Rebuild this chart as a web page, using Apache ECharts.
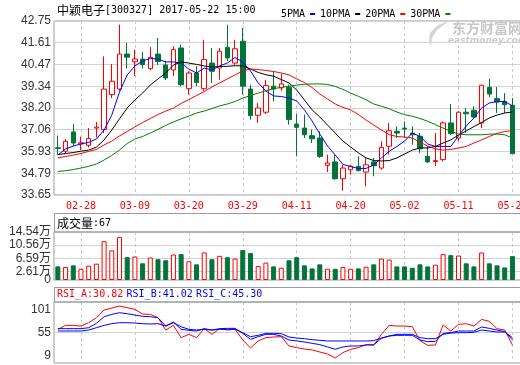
<!DOCTYPE html>
<html><head><meta charset="utf-8">
<script src="https://cdn.jsdelivr.net/npm/echarts@6/dist/echarts.min.js"></script>
<style>html,body{margin:0;padding:0;background:#fff}#c{width:520px;height:365px}#err{position:absolute;left:60px;top:100px;font:10px monospace;color:#f0f}</style>
</head><body><div id="c"></div><div id="err"></div><script>
const dates = ['02-23','02-24','02-27','02-28','03-01','03-02','03-03','03-06','03-07','03-08','03-09','03-10','03-13','03-14','03-15','03-16','03-17','03-20','03-21','03-22','03-23','03-24','03-27','03-28','03-29','03-30','03-31','04-05','04-06','04-07','04-10','04-11','04-12','04-13','04-14','04-17','04-18','04-19','04-20','04-21','04-24','04-25','04-26','04-27','04-28','05-02','05-03','05-04','05-05','05-08','05-09','05-10','05-11','05-12','05-15','05-16','05-17','05-18','05-19','05-22'];
const openP  = [36.12,35.94,36.95,36.32,36.25,37.15,37.07,38.90,39.19,41.02,40.62,40.76,40.26,41.02,40.45,40.19,41.34,39.21,40.03,39.21,40.55,40.29,41.37,40.55,41.69,39.19,37.82,37.98,39.34,39.25,39.28,37.36,37.15,36.75,36.63,35.20,35.38,34.50,34.97,35.15,34.85,35.38,35.06,36.20,36.98,37.15,36.89,36.72,35.67,35.40,35.50,37.42,36.63,37.98,38.08,37.42,39.28,38.69,38.55,38.34];
const closeP = [36.08,36.46,36.37,36.38,36.60,37.20,39.19,39.60,41.02,40.86,40.76,40.47,40.85,40.63,39.77,41.25,39.42,40.03,39.54,40.73,40.12,41.17,40.82,41.30,39.34,37.80,38.20,39.37,39.19,39.46,37.59,37.19,36.80,36.59,35.67,35.32,34.50,35.06,35.15,34.92,35.23,35.18,36.14,37.01,36.89,37.10,36.80,36.07,35.38,35.45,37.42,36.86,37.98,37.90,37.73,39.39,38.93,38.51,38.37,35.81];
const lowP   = [35.74,35.85,36.20,36.00,36.13,36.66,36.89,38.72,39.10,40.26,39.86,40.26,40.17,40.45,39.66,39.87,39.34,38.90,39.34,39.10,39.51,39.68,40.64,40.46,38.90,37.59,37.42,37.89,38.55,39.10,37.33,35.67,36.63,36.37,35.59,34.85,34.45,33.87,34.71,34.89,34.10,34.63,34.97,35.76,36.63,36.63,36.28,35.85,35.32,35.15,35.41,36.80,36.46,36.89,37.68,37.15,38.76,37.94,37.94,35.81];
const highP  = [36.76,36.58,37.36,36.70,37.15,37.47,40.90,40.50,42.56,41.60,41.25,41.13,41.39,41.86,40.66,41.43,41.51,40.12,40.38,41.77,41.34,41.34,42.56,41.77,42.38,39.42,38.46,39.68,40.12,39.98,39.42,37.89,37.85,37.07,36.98,35.76,35.76,35.23,35.23,35.67,35.59,35.59,36.46,37.42,37.24,37.50,37.24,36.89,36.20,36.89,37.50,38.41,38.03,38.20,38.29,39.42,39.73,39.30,38.98,38.72];
const ma5  = [35.74,36.06,36.21,36.32,36.40,36.58,37.05,37.83,39.04,39.93,40.40,40.66,40.79,40.76,40.61,40.61,40.55,40.24,40.03,40.29,40.19,40.40,40.55,40.84,40.61,40.14,39.51,39.09,38.83,38.80,38.72,38.57,38.10,37.52,36.84,36.21,35.74,35.25,35.14,35.04,35.04,35.22,35.59,35.93,36.19,36.47,36.89,36.71,36.32,36.19,36.19,36.19,36.74,37.26,37.68,38.20,38.46,38.54,38.54,38.31];
const ma10 = [35.76,35.82,35.87,35.94,36.00,36.15,36.53,37.05,37.63,38.20,38.62,38.98,39.40,39.72,40.03,40.45,40.61,40.55,40.48,40.40,40.34,40.37,40.38,40.41,40.40,40.24,40.06,39.94,39.86,39.69,39.51,39.14,38.62,38.10,37.73,37.31,36.89,36.47,36.16,35.85,35.59,35.45,35.43,35.45,35.59,35.79,36.00,36.11,36.11,36.19,36.37,36.53,36.79,37.00,37.23,37.44,37.68,37.83,37.94,37.99];
const ma20 = [35.59,35.66,35.74,35.82,35.93,36.03,36.27,36.47,36.74,36.97,37.21,37.44,37.65,37.86,38.04,38.20,38.44,38.64,38.85,39.06,39.30,39.51,39.72,39.93,40.14,40.24,40.21,40.16,40.11,40.03,39.93,39.72,39.53,39.27,38.93,38.67,38.41,38.23,38.10,37.86,37.57,37.31,37.05,36.81,36.71,36.68,36.63,36.42,36.21,36.06,36.00,36.03,36.11,36.19,36.37,36.53,36.71,36.87,36.97,37.02];
const ma30 = [34.88,34.92,34.98,35.06,35.15,35.27,35.48,35.72,36.00,36.34,36.58,36.71,36.89,37.08,37.29,37.47,37.63,37.78,37.94,38.04,38.17,38.31,38.41,38.54,38.72,38.85,38.98,39.10,39.21,39.28,39.34,39.40,39.44,39.46,39.46,39.43,39.33,39.17,38.98,38.81,38.63,38.41,38.29,38.16,37.99,37.85,37.77,37.65,37.51,37.33,37.15,36.98,36.84,36.80,36.80,36.80,36.83,36.84,36.80,36.63];
const volume = [4.12,3.92,4.43,3.40,4.33,4.95,11.75,8.97,12.99,6.91,7.11,5.05,6.80,6.29,5.98,7.73,7.84,5.67,4.74,8.35,6.29,7.32,6.91,6.49,9.07,8.14,4.23,5.26,4.12,3.71,5.98,6.91,4.43,3.51,4.74,3.40,3.40,3.92,3.40,3.51,4.02,4.74,6.49,6.19,4.12,4.12,3.71,4.74,4.12,4.64,7.84,7.53,7.42,5.05,4.12,8.35,5.05,4.43,3.81,7.22];
const rsiA = [61.6,69.4,69.4,68.1,74.7,84.5,99.6,103.6,107.5,104.2,100.9,91.7,91.1,84.5,60.2,69.4,45.2,51.7,45.2,62.9,51.7,62.9,60.2,61.6,40.6,24.8,38.6,45.2,46.5,47.1,28.8,25.5,22.8,20.9,16.9,13.0,5.1,15.6,22.2,25.5,31.4,30.1,51.7,69.4,68.1,68.1,66.8,39.3,30.1,30.7,70.1,58.3,71.4,72.7,68.1,81.2,77.3,62.9,60.2,30.82];
const rsiB = [62.9,62.9,62.9,62.9,64.8,73.4,86.5,91.1,94.4,92.4,89.8,87.2,86.5,84.5,68.1,76.0,61.6,59.6,58.3,62.9,60.2,62.9,63.5,63.5,53.7,41.9,47.1,51.7,51.7,48.4,40.6,38.6,36.6,34.0,31.4,26.8,22.2,26.8,28.8,28.8,30.7,31.4,43.8,48.4,49.8,49.8,49.8,40.6,37.3,37.9,53.7,55.0,58.3,58.3,58.3,66.2,63.5,60.2,57.0,41.02];
const rsiC = [58.3,58.3,58.3,58.3,60.2,64.8,69.4,72.7,74.7,74.7,74.0,72.7,72.1,72.7,68.1,74.7,66.8,61.6,60.2,61.6,60.2,61.6,61.6,61.6,55.0,47.1,49.8,53.7,53.7,53.0,46.5,44.5,43.2,41.2,39.9,38.6,38.6,38.6,38.6,38.6,38.6,39.3,44.5,48.4,51.7,51.7,51.7,45.2,43.2,43.2,51.7,54.3,55.0,55.0,55.7,60.2,58.3,56.3,56.3,45.30];
const priceTicks = ['33.65','34.79','35.93','37.06','38.20','39.34','40.47','41.61','42.75'];
const volTickValues = [0, 2.61, 6.59, 10.56, 14.54];
const volTickLabels = ['0','2.61万','6.59万','10.56万','14.54万'];
const rsiTickValues = [9, 55, 101];

const RED = '#ff0000', GREEN = '#04733a', BLUE = '#0000ff';
const cats = dates.concat(['']);
const pMin = parseFloat(priceTicks[0]), pMax = parseFloat(priceTicks[priceTicks.length-1]);
const pInt = (pMax - pMin) / (priceTicks.length - 1);
const vMin = volTickValues[0], vMax = volTickValues[volTickValues.length-1];
const isLab = (i) => i % 7 === 3 && i < dates.length;
const up = (i) => closeP[i] >= openP[i];
const volFmt = (v) => volTickLabels[volTickValues.indexOf(v)];

function xAx(g, showLabel) {
  return {
    type: 'category', gridIndex: g, data: cats, boundaryGap: true,
    axisLine: {show: false}, axisTick: {show: false},
    axisLabel: {show: showLabel, interval: (i) => isLab(i), color: RED, hideOverlap: false,
      fontFamily: 'DejaVu Sans Mono', fontSize: 10, margin: 6},
    splitLine: {show: true, interval: (i) => isLab(i), alignWithLabel: true,
      lineStyle: {color: '#c8c8c8', type: [3, 3], width: 1}}
  };
}
const yLabelStyle = {color: '#333', fontFamily: 'Liberation Sans, "Noto Sans CJK SC"', fontSize: 12, margin: 3,
  hideOverlap: false};
const gridBase = {left: 54, width: 470, show: true, borderColor: '#9a9a9a', borderWidth: 1,
  containLabel: false, outerBoundsMode: 'none'};

const errs = [];
const chart = echarts.init(document.getElementById('c'));
const base = {
  animation: false,
  backgroundColor: '#fff',
  grid: [
    Object.assign({top: 21, height: 174}, gridBase),
    Object.assign({top: 232, height: 48}, gridBase),
    Object.assign({top: 302, height: 61}, gridBase)
  ],
  xAxis: [xAx(0, true), xAx(1, false), xAx(2, false)],
  yAxis: [
    {type: 'value', gridIndex: 0, min: pMin, max: pMax, interval: pInt, position: 'left',
      axisLine: {show: false}, axisTick: {show: false},
      axisLabel: Object.assign({formatter: (v) => priceTicks[Math.round((v - pMin) / pInt)]}, yLabelStyle),
      splitLine: {lineStyle: {color: '#d2d2d2'}}},
    {type: 'value', gridIndex: 1, min: vMin, max: vMax, position: 'left',
      axisLine: {show: false}, axisTick: {show: false, customValues: volTickValues.slice(1, -1)},
      axisLabel: Object.assign({customValues: volTickValues.slice(1), formatter: volFmt}, yLabelStyle),
      splitLine: {lineStyle: {color: '#d2d2d2'}}},
    {type: 'value', gridIndex: 2, min: -4.8, max: 115.5, position: 'left',
      axisLine: {show: false}, axisTick: {show: false, customValues: [55]},
      axisLabel: Object.assign({customValues: rsiTickValues}, yLabelStyle),
      splitLine: {lineStyle: {color: '#d2d2d2'}}},
    {type: 'value', gridIndex: 1, min: vMin, max: vMax, position: 'left', offset: 0,
      axisLine: {show: false}, axisTick: {show: false, customValues: [vMin]},
      axisLabel: Object.assign({customValues: [vMin], formatter: volFmt}, yLabelStyle),
      splitLine: {show: false}}
  ],
  series: [
    {type: 'candlestick', name: 'K', xAxisIndex: 0, yAxisIndex: 0, barWidth: 5,
      data: dates.map((d, i) => [openP[i], closeP[i], lowP[i], highP[i]]),
      itemStyle: {color: '#ffffff', color0: GREEN, borderColor: RED, borderColor0: GREEN, borderWidth: 1}},
    {type: 'line', name: '5PMA', data: ma5, symbol: 'none', color: BLUE, lineStyle: {width: 1, color: BLUE}, z: 5},
    {type: 'line', name: '10PMA', data: ma10, symbol: 'none', color: '#000', lineStyle: {width: 1, color: '#000'}, z: 5},
    {type: 'line', name: '20PMA', data: ma20, symbol: 'none', color: RED, lineStyle: {width: 1, color: RED}, z: 5},
    {type: 'line', name: '30PMA', data: ma30, symbol: 'none', color: '#008000', lineStyle: {width: 1, color: '#008000'}, z: 5},
    {type: 'bar', name: 'VOL', xAxisIndex: 1, yAxisIndex: 1, barWidth: 5,
      data: volume.map((v, i) => ({value: v, itemStyle: up(i)
        ? {color: '#ffffff', borderColor: RED, borderWidth: 1}
        : {color: GREEN, borderColor: GREEN, borderWidth: 1}}))},
    {type: 'line', name: 'RSI_A', xAxisIndex: 2, yAxisIndex: 2, data: rsiA, symbol: 'none', lineStyle: {width: 1, color: RED}},
    {type: 'line', name: 'RSI_B', xAxisIndex: 2, yAxisIndex: 2, data: rsiB, symbol: 'none', lineStyle: {width: 1, color: BLUE}},
    {type: 'line', name: 'RSI_C', xAxisIndex: 2, yAxisIndex: 2, data: rsiC, symbol: 'none', lineStyle: {width: 1, color: BLUE}}
  ]
};
try { chart.setOption(base); } catch (e) { errs.push('base: ' + e.message); }
try {
  chart.setOption({legend: {
    data: ['5PMA', '10PMA', '20PMA', '30PMA'], left: 276, top: 4, align: 'right',
    icon: 'rect', itemWidth: 5, itemHeight: 2, itemGap: 5, selectedMode: false,
    textStyle: {fontFamily: 'DejaVu Sans Mono', fontSize: 10, color: '#000'}
  }});
} catch (e) { errs.push('legend: ' + e.message); }
try {
  chart.setOption({graphic: [
    {type: 'rect', shape: {x: 54.5, y: 213.5, width: 470, height: 18.5}, style: {fill: 'none', stroke: '#9a9a9a', lineWidth: 1}, silent: true},
    {type: 'rect', shape: {x: 54.5, y: 287.5, width: 470, height: 14.5}, style: {fill: 'none', stroke: '#9a9a9a', lineWidth: 1}, silent: true},
    {type: 'text', x: 57, y: 10, silent: true, style: {
      text: '{c|中颖电子}{a|[300327] 2017-05-22 15:00}', verticalAlign: 'middle',
      rich: {c: {fontFamily: 'Noto Sans CJK SC', fontSize: 12, fill: '#000'},
             a: {fontFamily: 'DejaVu Sans Mono', fontSize: 10, fill: '#000'}}}},
    {type: 'text', x: 57, y: 223, silent: true, style: {
      text: '{c|成交量}{a|:67}', verticalAlign: 'middle',
      rich: {c: {fontFamily: 'Noto Sans CJK SC', fontSize: 12, fill: '#000'},
             a: {fontFamily: 'DejaVu Sans Mono', fontSize: 10, fill: '#000'}}}},
    {type: 'text', x: 57, y: 294.5, silent: true, style: {
      text: '{r|RSI_A:30.82} {b|RSI_B:41.02} {b|RSI_C:45.30}', verticalAlign: 'middle',
      rich: {r: {fontFamily: 'DejaVu Sans Mono', fontSize: 10, fill: RED},
             b: {fontFamily: 'DejaVu Sans Mono', fontSize: 10, fill: BLUE}}}},
    {type: 'polygon', silent: true, z: 0, shape: {points: [[449,21],[438,25],[430,33],[429,41],[431,46],[432,38],[437,30]]}, style: {fill: '#d4d4d4'}},
    {type: 'text', x: 452, y: 28, silent: true, z: 0, style: {text: '东方财富网', verticalAlign: 'middle',
      font: 'bold 14px "Noto Sans CJK SC"', fill: '#c8c8c8'}},
    {type: 'text', x: 448, y: 41, silent: true, z: 0, style: {text: 'eastmoney.com', verticalAlign: 'middle',
      font: 'italic bold 9px "DejaVu Sans"', fill: '#cccccc'}}
  ]});
} catch (e) { errs.push('graphic: ' + e.message); }
document.getElementById('err').textContent = errs.join(' | ');
</script></body></html>
